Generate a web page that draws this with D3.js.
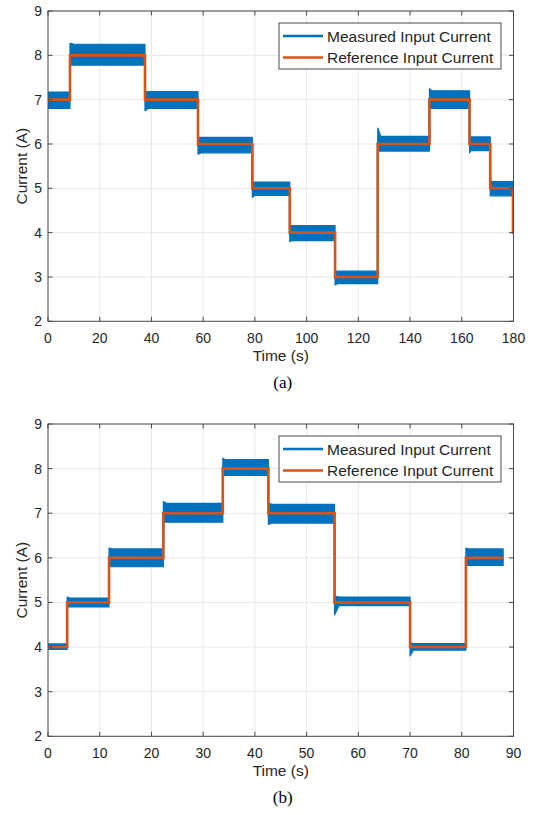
<!DOCTYPE html>
<html><head><meta charset="utf-8">
<script src="https://cdn.jsdelivr.net/npm/d3@7"></script>
<style>body{margin:0;background:#fff}svg{display:block}</style></head>
<body>
<script>
// ---------- Data (a) ----------
const aBreaks = [0, 8.5, 37.5, 58, 79, 93.5, 111, 127.5, 147.5, 163, 171, 179.8, 180];
const aRef    = [7, 8, 7, 6, 5, 4, 3, 6, 7, 6, 5, 4];
const aHigh   = [7.17, 8.25, 7.18, 6.15, 5.14, 4.16, 3.13, 6.17, 7.2, 6.16, 5.15];
const aLow    = [6.8, 7.78, 6.8, 5.8, 4.84, 3.82, 2.85, 5.84, 6.8, 5.85, 4.83];
const aPeakHi = [7.17, 8.27, 7.18, 6.15, 5.14, 4.16, 3.13, 6.36, 7.25, 6.16, 5.2];
const aPeakLo = [6.8, 7.78, 6.75, 5.77, 4.8, 3.8, 2.82, 5.84, 6.8, 5.8, 4.83];
const aXTicks = [0, 20, 40, 60, 80, 100, 120, 140, 160, 180];

// ---------- Data (b) ----------
const bBreaks = [0, 3.7, 11.8, 22.3, 33.8, 42.6, 55.4, 70, 80.8, 88];
const bRef    = [4, 5, 6, 7, 8, 7, 5, 4, 6];
const bHigh   = [4.07, 5.1, 6.2, 7.22, 8.2, 7.2, 5.12, 4.08, 6.2];
const bLow    = [3.95, 4.9, 5.8, 6.8, 7.85, 6.78, 4.93, 3.93, 5.83];
const bPeakHi = [4.07, 5.12, 6.22, 7.26, 8.23, 7.22, 5.14, 4.1, 6.22];
const bPeakLo = [3.95, 4.9, 5.8, 6.8, 7.85, 6.75, 4.72, 3.8, 5.83];
const bXTicks = [0, 10, 20, 30, 40, 50, 60, 70, 80, 90];

const yTicks = [2, 3, 4, 5, 6, 7, 8, 9];
const labels = {x: "Time (s)", y: "Current (A)", legend: ["Measured Input Current", "Reference Input Current"]};

const W = 535, H = 815;
const BLUE = "#0072BD", ORANGE = "#D95319", AX = "#4a4a4a", TXT = "#262626", GRID = "#e8e8e8";
const svg = d3.select("body").append("svg").attr("width", W).attr("height", H)
  .style("font-family", "'Liberation Sans', Arial, Helvetica, sans-serif");

function panel(cfg) {
  const x = d3.scaleLinear().domain([cfg.xTicks[0], cfg.xTicks[cfg.xTicks.length-1]]).range([48, 513.5]);
  const y = d3.scaleLinear().domain([2, 9]).range([cfg.bottom, cfg.top]);
  const g = svg.append("g");
  // grid
  g.selectAll(".gx").data(cfg.xTicks).join("line")
    .attr("x1", d => x(d)).attr("x2", d => x(d)).attr("y1", y(2)).attr("y2", y(9))
    .attr("stroke", GRID).attr("stroke-width", 1);
  g.selectAll(".gy").data(yTicks).join("line")
    .attr("x1", x.range()[0]).attr("x2", x.range()[1]).attr("y1", d => y(d)).attr("y2", d => y(d))
    .attr("stroke", GRID).attr("stroke-width", 1);

  // clip
  const cid = "clip" + cfg.id;
  svg.append("clipPath").attr("id", cid).append("rect")
    .attr("x", x.range()[0]).attr("y", y(9)).attr("width", x.range()[1]-x.range()[0]).attr("height", y(2)-y(9));
  const pg = g.append("g").attr("clip-path", `url(#${cid})`);

  // measured band
  const nMeas = cfg.high.length;
  const mid = [];
  for (let i = 0; i < nMeas; i++) {
    const t0 = cfg.breaks[i], t1 = cfg.breaks[i+1];
    const w = (t1 - t0) * 0.06;
    const pts = [
      {t: t0, lo: cfg.peakLo[i], hi: cfg.peakHi[i]},
      {t: t0 + w, lo: cfg.low[i], hi: cfg.high[i]},
      {t: t1, lo: cfg.low[i], hi: cfg.high[i]}
    ];
    const area = d3.area().x(d => x(d.t)).y0(d => y(d.lo)).y1(d => y(d.hi));
    pg.append("path").attr("d", area(pts)).attr("fill", BLUE)
      .attr("stroke", BLUE).attr("stroke-width", 1.2).attr("stroke-linejoin", "round");
    mid.push({t: t0, v: (cfg.low[i] + cfg.high[i]) / 2});
  }
  mid.push({t: cfg.breaks[nMeas], v: mid[nMeas-1].v});
  pg.append("path").attr("d", d3.line().x(d => x(d.t)).y(d => y(d.v)).curve(d3.curveStepAfter)(mid))
    .attr("fill", "none").attr("stroke", BLUE).attr("stroke-width", 2);

  // reference
  const ref = cfg.ref.map((v, i) => ({t: cfg.breaks[i], v}));
  ref.push({t: cfg.breaks[cfg.breaks.length-1], v: cfg.ref[cfg.ref.length-1]});
  pg.append("path").attr("d", d3.line().x(d => x(d.t)).y(d => y(d.v)).curve(d3.curveStepAfter)(ref))
    .attr("fill", "none").attr("stroke", ORANGE).attr("stroke-width", 2.6);

  // box and ticks
  const [x0, x1] = x.range(), [yb, yt] = [y(2), y(9)];
  g.append("rect").attr("x", x0).attr("y", yt).attr("width", x1-x0).attr("height", yb-yt)
    .attr("fill", "none").attr("stroke", AX).attr("stroke-width", 1);
  const tl = 4.5;
  cfg.xTicks.forEach(d => {
    g.append("line").attr("x1", x(d)).attr("x2", x(d)).attr("y1", yb).attr("y2", yb - tl).attr("stroke", AX);
    g.append("line").attr("x1", x(d)).attr("x2", x(d)).attr("y1", yt).attr("y2", yt + tl).attr("stroke", AX);
  });
  yTicks.forEach(d => {
    g.append("line").attr("x1", x0).attr("x2", x0 + tl).attr("y1", y(d)).attr("y2", y(d)).attr("stroke", AX);
    g.append("line").attr("x1", x1).attr("x2", x1 - tl).attr("y1", y(d)).attr("y2", y(d)).attr("stroke", AX);
  });
  // tick labels
  g.selectAll(".xl").data(cfg.xTicks).join("text")
    .attr("x", d => x(d)).attr("y", yb + 22).attr("text-anchor", "middle")
    .attr("font-size", 14).attr("fill", TXT).text(d => d);
  g.selectAll(".yl").data(yTicks).join("text")
    .attr("x", 42).attr("y", d => y(d) + 5).attr("text-anchor", "end")
    .attr("font-size", 14).attr("fill", TXT).text(d => d);
  // axis labels
  g.append("text").attr("x", (x0 + x1) / 2).attr("y", yb + 39.5).attr("text-anchor", "middle")
    .attr("font-size", 15.5).attr("fill", TXT).text(labels.x);
  g.append("text").attr("transform", `translate(27,${(yb + yt) / 2}) rotate(-90)`)
    .attr("text-anchor", "middle").attr("font-size", 15.5).attr("fill", TXT).text(labels.y);
  // caption
  g.append("text").attr("x", (x0 + x1) / 2 + 2).attr("y", yb + 67).attr("text-anchor", "middle")
    .attr("font-family", "'Liberation Serif', 'Times New Roman', serif")
    .attr("font-size", 17).attr("fill", "#000").text(cfg.caption);

  // legend
  const lx = 279, ly = yt + 12, lw = 222, lh = 46;
  g.append("rect").attr("x", lx).attr("y", ly).attr("width", lw).attr("height", lh)
    .attr("fill", "#fff").attr("stroke", AX).attr("stroke-width", 1);
  [BLUE, ORANGE].forEach((c, i) => {
    const cy = ly + 13 + i * 21.5;
    g.append("line").attr("x1", lx + 4).attr("x2", lx + 44).attr("y1", cy).attr("y2", cy)
      .attr("stroke", c).attr("stroke-width", 2.6);
    g.append("text").attr("x", lx + 48).attr("y", cy + 5.5).attr("font-size", 15.5).attr("fill", TXT)
      .text(labels.legend[i]);
  });
}

panel({id: "a", top: 11, bottom: 321.3, breaks: aBreaks, ref: aRef, high: aHigh, low: aLow,
  peakHi: aPeakHi, peakLo: aPeakLo, xTicks: aXTicks, caption: "(a)"});
panel({id: "b", top: 424, bottom: 736.3, breaks: bBreaks, ref: bRef, high: bHigh, low: bLow,
  peakHi: bPeakHi, peakLo: bPeakLo, xTicks: bXTicks, caption: "(b)"});
</script>
</body></html>
